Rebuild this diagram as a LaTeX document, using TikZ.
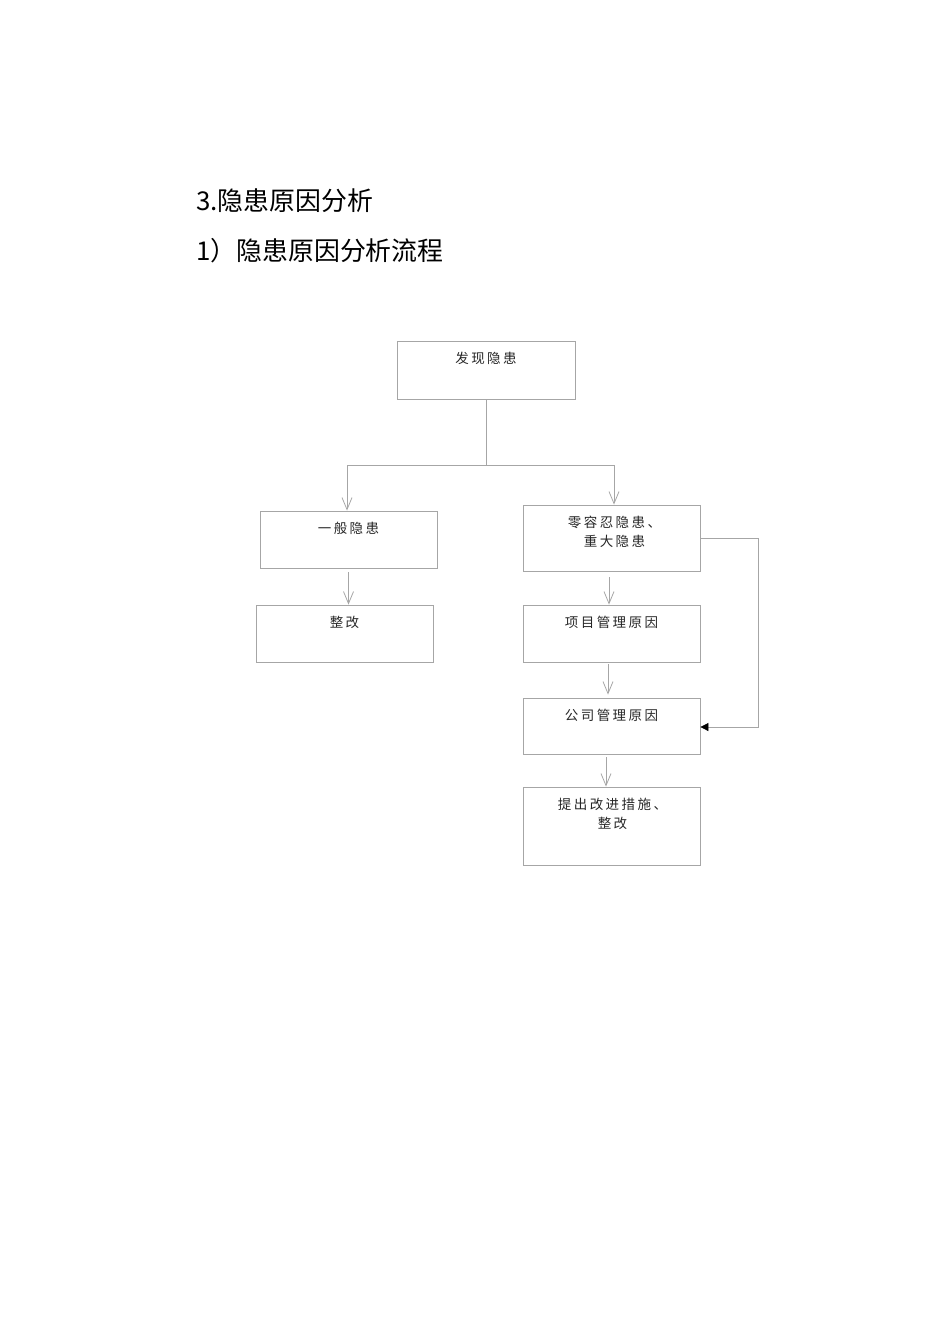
\documentclass[tikz,border=0pt]{standalone}
\usepackage{fontspec}
\setmainfont{Noto Sans CJK SC}
\newfontfamily\boxfont[LetterSpace=18]{Noto Sans CJK SC}
\usetikzlibrary{arrows.meta}
\definecolor{linegray}{HTML}{A6A6A6}
\tikzset{
  flowbox/.style={draw=linegray, line width=0.8pt, rectangle, inner sep=0pt},
  boxtext/.style={anchor=north, inner sep=0pt, align=center, font=\boxfont\fontsize{13.5}{19}\selectfont, text=black!85},
  conn/.style={draw=linegray, line width=0.8pt},
  openarrow/.style={conn, -{Straight Barb[length=12pt,width=10pt,line width=0.8pt]}},
  heading/.style={anchor=west, inner sep=0pt, font=\fontsize{25.9}{30}\selectfont}
}
\begin{document}
\begin{tikzpicture}[x=1pt,y=-1pt]
\useasboundingbox (0,0) rectangle (950,1344);
\node[heading] (h1) at (196,201) {3.隐患原因分析};
\node[heading] (h2) at (196,251) {1）隐患原因分析流程};

% boxes
\node[flowbox, minimum width=178pt, minimum height=58pt] (find) at (486,370) {};
\node[flowbox, minimum width=177pt, minimum height=57pt] (gen) at (348.5,539.5) {};
\node[flowbox, minimum width=177pt, minimum height=66pt] (zero) at (611.5,538) {};
\node[flowbox, minimum width=177pt, minimum height=57pt] (fix) at (344.5,633.5) {};
\node[flowbox, minimum width=177pt, minimum height=57pt] (proj) at (611.5,633.5) {};
\node[flowbox, minimum width=177pt, minimum height=56pt] (comp) at (611.5,726) {};
\node[flowbox, minimum width=177pt, minimum height=78pt] (prop) at (611.5,826) {};

% texts
\node[boxtext] (tfind) at ([yshift=-11.5pt]find.north) {发现隐患};
\node[boxtext] (tgen) at ([yshift=-11.5pt]gen.north) {一般隐患};
\node[boxtext] (tzero) at ([xshift=3pt,yshift=-11.5pt]zero.north) {零容忍隐患、\\重大隐患};
\node[boxtext] (tfix) at ([yshift=-11.5pt]fix.north) {整改};
\node[boxtext] (tproj) at ([yshift=-11.5pt]proj.north) {项目管理原因};
\node[boxtext] (tcomp) at ([yshift=-11.5pt]comp.north) {公司管理原因};
\node[boxtext] (tprop) at ([xshift=1pt,yshift=-11.5pt]prop.north) {提出改进措施、\\整改};

% connectors
\coordinate (split) at (486,465);
\coordinate (sl) at (347,465);
\coordinate (sr) at (614,465);
\draw[conn] (find.south) -- (split);
\draw[conn] (sl) -- (sr);
\draw[openarrow] (sl) -- (sl |- gen.north);
\draw[openarrow] (sr) -- (sr |- zero.north);
\draw[openarrow] ([yshift=-4pt]gen.south) -- (fix.north -| gen.south);
\draw[openarrow] ([xshift=-2.5pt,yshift=-6pt]zero.south) -- ([xshift=-2.5pt]proj.north);
\draw[openarrow] ([xshift=-3.5pt,yshift=-2pt]proj.south) -- ([xshift=-3.5pt,yshift=3pt]comp.north);
\draw[openarrow] ([xshift=-5.5pt,yshift=-3pt]comp.south) -- ([xshift=-5.5pt]prop.north);
\coordinate (lp1) at (758,538);
\coordinate (lp2) at (758,727);
\draw[conn] (zero.east) -- (lp1) -- (lp2) -- (lp2 -| comp.east)
  [arrows={-{Triangle[length=8pt,width=8pt,fill=black,color=black]}}];
\end{tikzpicture}
\end{document}
